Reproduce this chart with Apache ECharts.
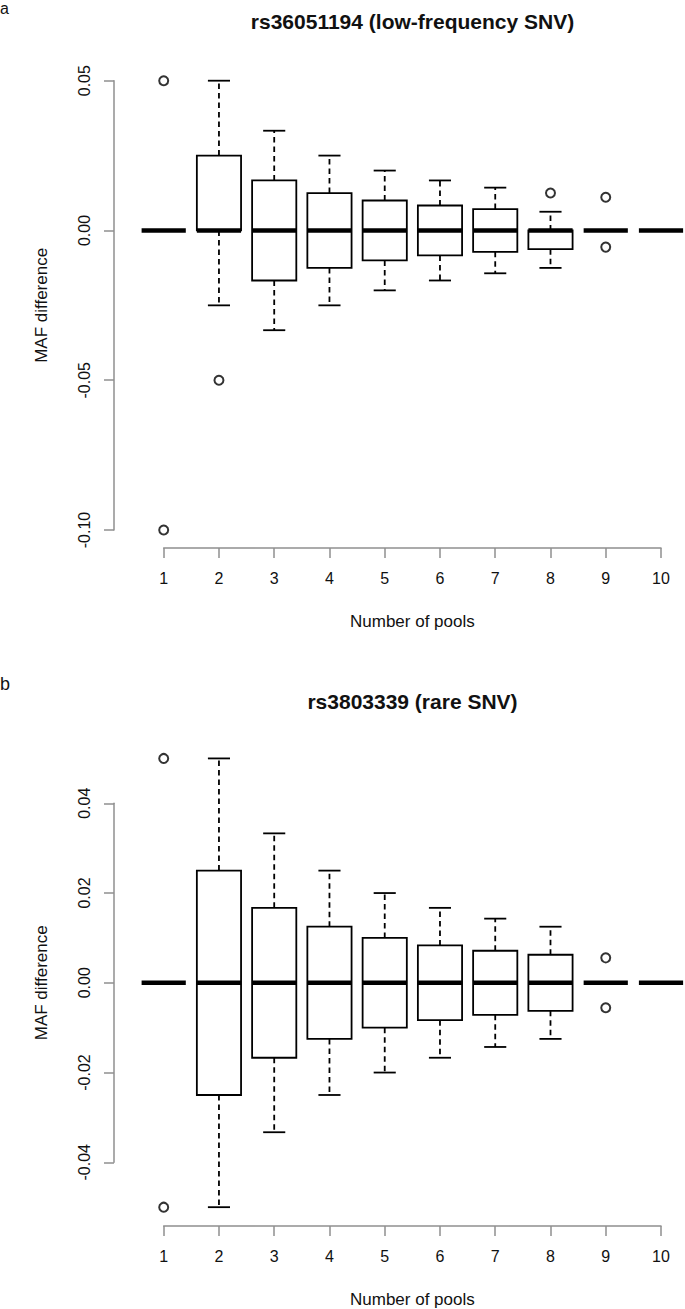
<!DOCTYPE html>
<html>
<head>
<meta charset="utf-8">
<script src="https://cdn.jsdelivr.net/npm/echarts@6/dist/echarts.min.js"></script>
<style>
html,body{margin:0;padding:0;background:#fff;}
#chart{width:685px;height:1309px;}
</style>
</head>
<body>
<div id="chart"></div>
<script>
// ---- data ----
const pools = [1, 2, 3, 4, 5, 6, 7, 8, 9, 10];

// Panel a: rs36051194 (low-frequency SNV)
const aTitle = 'rs36051194 (low-frequency SNV)';
const aLow  = [0, -0.025, -0.0333, -0.025, -0.02, -0.0167, -0.0143, -0.0125, 0, 0];
const aQ1   = [0, 0, -0.0167, -0.0125, -0.01, -0.00833, -0.00714, -0.00625, 0, 0];
const aMed  = [0, 0, 0, 0, 0, 0, 0, 0, 0, 0];
const aQ3   = [0, 0.025, 0.0167, 0.0125, 0.01, 0.00833, 0.00714, 0, 0, 0];
const aHigh = [0, 0.05, 0.0333, 0.025, 0.02, 0.0167, 0.0143, 0.00625, 0, 0];
const aOutX = [1, 1, 2, 8, 9, 9];
const aOutY = [0.05, -0.10, -0.05, 0.0125, 0.0111, -0.00556];
const aTicks = [-0.10, -0.05, 0.00, 0.05];

// Panel b: rs3803339 (rare SNV)
const bTitle = 'rs3803339 (rare SNV)';
const bLow  = [0, -0.05, -0.0333, -0.025, -0.02, -0.0167, -0.0143, -0.0125, 0, 0];
const bQ1   = [0, -0.025, -0.0167, -0.0125, -0.01, -0.00833, -0.00714, -0.00625, 0, 0];
const bMed  = [0, 0, 0, 0, 0, 0, 0, 0, 0, 0];
const bQ3   = [0, 0.025, 0.0167, 0.0125, 0.01, 0.00833, 0.00714, 0.00625, 0, 0];
const bHigh = [0, 0.05, 0.0333, 0.025, 0.02, 0.0167, 0.0143, 0.0125, 0, 0];
const bOutX = [1, 1, 9, 9];
const bOutY = [0.05, -0.05, 0.00556, -0.00556];
const bTicks = [-0.04, -0.02, 0.00, 0.02, 0.04];

const xLabel = 'Number of pools';
const yLabel = 'MAF difference';

// ---- chart ----
const FONT = '"Liberation Sans", Arial, Helvetica, sans-serif';
const AXIS_COLOR = '#8f8f8f';
const LW = 1.8;

function boxRows(low, q1, med, q3, high) {
  return pools.map((p, i) => [p, low[i], q1[i], med[i], q3[i], high[i]]);
}
function outRows(xs, ys) {
  return xs.map((x, i) => [x, ys[i]]);
}

function renderBox(params, api) {
  const x = api.value(0);
  const low = api.coord([x, api.value(1)]);
  const q1 = api.coord([x, api.value(2)]);
  const med = api.coord([x, api.value(3)]);
  const q3 = api.coord([x, api.value(4)]);
  const high = api.coord([x, api.value(5)]);
  const bw = api.size([0.8, 0])[0];
  const cw = bw / 2;
  const cx = med[0];
  const ch = [];
  const solid = { stroke: '#000', lineWidth: LW, fill: null };
  const dashed = { stroke: '#000', lineWidth: LW, lineDash: [5.5, 4] };
  if (Math.abs(q1[1] - q3[1]) > 0.01) {
    ch.push({ type: 'rect', shape: { x: cx - bw / 2, y: q3[1], width: bw, height: q1[1] - q3[1] },
      style: { stroke: '#000', lineWidth: LW, fill: '#fff' } });
  }
  if (Math.abs(high[1] - q3[1]) > 0.01) {
    ch.push({ type: 'line', shape: { x1: cx, y1: q3[1], x2: cx, y2: high[1] }, style: dashed });
    ch.push({ type: 'line', shape: { x1: cx - cw / 2, y1: high[1], x2: cx + cw / 2, y2: high[1] }, style: solid });
  }
  if (Math.abs(low[1] - q1[1]) > 0.01) {
    ch.push({ type: 'line', shape: { x1: cx, y1: q1[1], x2: cx, y2: low[1] }, style: dashed });
    ch.push({ type: 'line', shape: { x1: cx - cw / 2, y1: low[1], x2: cx + cw / 2, y2: low[1] }, style: solid });
  }
  ch.push({ type: 'line', shape: { x1: cx - bw / 2, y1: med[1], x2: cx + bw / 2, y2: med[1] },
    style: { stroke: '#000', lineWidth: 4.5 } });
  return { type: 'group', children: ch };
}

function xAxisCfg(gridIndex, offset) {
  return {
    gridIndex, type: 'value', min: pools[0], max: pools[pools.length - 1], interval: 1,
    offset,
    name: xLabel, nameLocation: 'middle', nameGap: 65,
    nameTextStyle: { fontFamily: FONT, fontSize: 17, color: '#111' },
    axisLine: { show: true, onZero: false, lineStyle: { color: AXIS_COLOR, width: 1.5 } },
    axisTick: { show: true, length: 10, lineStyle: { color: AXIS_COLOR, width: 1.5 } },
    axisLabel: { fontFamily: FONT, fontSize: 16, color: '#111', margin: 22 },
    splitLine: { show: false }
  };
}
function yAxisCfg(gridIndex, ticks) {
  return {
    gridIndex, type: 'value', min: ticks[0], max: ticks[ticks.length - 1],
    interval: ticks[1] - ticks[0], offset: 49.7,
    name: yLabel, nameLocation: 'middle', nameRotate: 90, nameGap: 64,
    nameTextStyle: { fontFamily: FONT, fontSize: 17, color: '#111' },
    axisLine: { show: true, onZero: false, lineStyle: { color: AXIS_COLOR, width: 1.5 } },
    axisTick: { show: true, length: 10, lineStyle: { color: AXIS_COLOR, width: 1.5 } },
    axisLabel: { fontFamily: FONT, fontSize: 16, color: '#111', rotate: 90, margin: 22,
      formatter: v => (Math.abs(v) < 1e-9 ? 0 : v).toFixed(2) },
    splitLine: { show: false }
  };
}

const outlierStyle = { color: '#000', borderColor: '#000', borderWidth: 2 };

const chart = echarts.init(document.getElementById('chart'), null, { renderer: 'svg' });
chart.setOption({
  animation: false,
  backgroundColor: '#fff',
  grid: [
    { left: 163.7, right: 24, top: 80.7, height: 449.3 },
    { left: 163.7, right: 24, top: 803.3, height: 359 }
  ],
  xAxis: [xAxisCfg(0, 18), xAxisCfg(1, 63.7)],
  yAxis: [yAxisCfg(0, aTicks), yAxisCfg(1, bTicks)],
  graphic: [
    { type: 'text', x: 0, y: 0, style: { text: 'a', font: '16px ' + FONT, fill: '#111', textVerticalAlign: 'top' } },
    { type: 'text', x: 0, y: 693, style: { text: 'b', font: '18px ' + FONT, fill: '#111', textVerticalAlign: 'bottom' } },
    { type: 'text', x: 412.5, y: 21.7, style: { text: aTitle, font: 'bold 21px ' + FONT, fill: '#111', textAlign: 'center', textVerticalAlign: 'middle' } },
    { type: 'text', x: 412.5, y: 701.7, style: { text: bTitle, font: 'bold 21px ' + FONT, fill: '#111', textAlign: 'center', textVerticalAlign: 'middle' } }
  ],
  series: [
    { type: 'custom', xAxisIndex: 0, yAxisIndex: 0, clip: false, renderItem: renderBox,
      encode: { x: 0, y: [1, 2, 3, 4, 5] }, data: boxRows(aLow, aQ1, aMed, aQ3, aHigh) },
    { type: 'scatter', xAxisIndex: 0, yAxisIndex: 0, clip: false, symbol: 'emptyCircle', symbolSize: 9,
      itemStyle: outlierStyle, z: 5, data: outRows(aOutX, aOutY) },
    { type: 'custom', xAxisIndex: 1, yAxisIndex: 1, clip: false, renderItem: renderBox,
      encode: { x: 0, y: [1, 2, 3, 4, 5] }, data: boxRows(bLow, bQ1, bMed, bQ3, bHigh) },
    { type: 'scatter', xAxisIndex: 1, yAxisIndex: 1, clip: false, symbol: 'emptyCircle', symbolSize: 9,
      itemStyle: outlierStyle, z: 5, data: outRows(bOutX, bOutY) }
  ]
});
</script>
</body>
</html>
